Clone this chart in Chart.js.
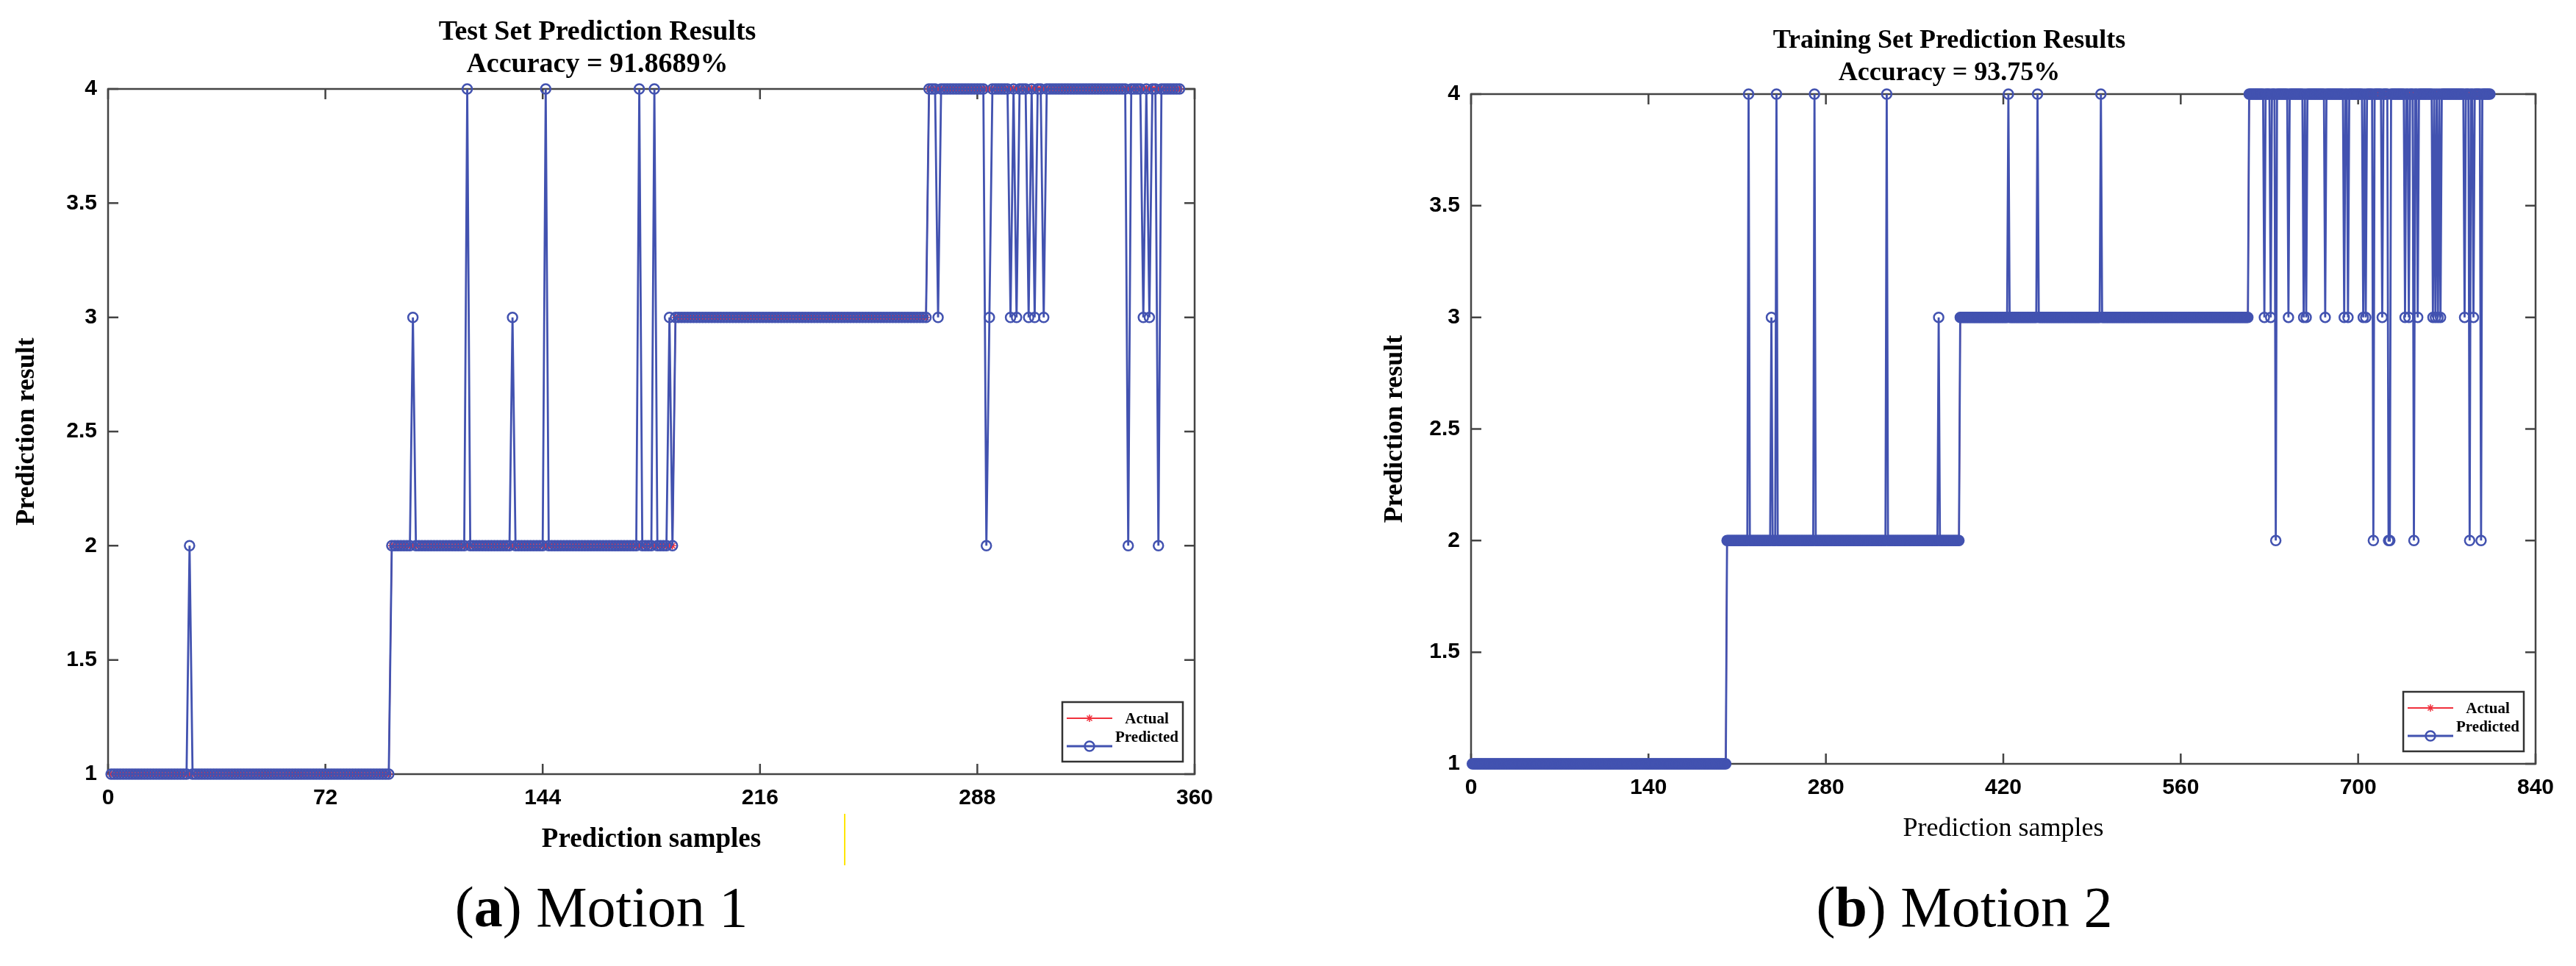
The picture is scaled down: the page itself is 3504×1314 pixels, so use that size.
<!DOCTYPE html>
<html lang="en">
<head>
  <meta charset="UTF-8">
  <title>Prediction Results - Motion 1 / Motion 2</title>
  <script src="https://cdn.jsdelivr.net/npm/chart.js@4.4.0/dist/chart.umd.min.js"></script>
  <style>
    body { margin: 0; background: #fff; }
    #page { position: relative; width: 3504px; height: 1314px; overflow: hidden; background: #fff; }
    .panel { position: absolute; top: 0; width: 1752px; height: 1314px; }
    .caption { position: absolute; width: 800px; text-align: center; font-family: 'Liberation Serif', 'Times New Roman', serif; font-size: 78px; line-height: 1; color: #000; }
    #mark { position: absolute; left: 1148px; top: 1107px; width: 2px; height: 70px; background: #ffe600; }
  </style>
</head>
<body>
  <div id="page">
    <div class="panel" style="left:0"><canvas id="testChart"></canvas></div>
    <div class="panel" style="left:1752px"><canvas id="trainChart"></canvas></div>
    <div id="mark"></div>
    <div class="caption" style="left:418px; top:1195px">(<b>a</b>) Motion 1</div>
    <div class="caption" style="left:2272px; top:1195px">(<b>b</b>) Motion 2</div>
  </div>
  <script>
    // Motion 1 - test set
    const testCount = 355;
    const testClassStart = [1, 94, 188, 272]; // first sample of class 1, 2, 3, 4
    const testErrIdx  = [27, 101, 119, 134, 145, 176, 181, 186, 275, 291, 292, 299, 301, 305, 307, 310, 338, 343, 345, 348];
    const testErrPred = [2,  3,   4,   3,   4,   4,   4,   3,   3,   2,   3,   3,   3,   3,   3,   3,   2,   3,   3,   2];
    const testXTicks = [0, 72, 144, 216, 288, 360];

    // Motion 2 - training set
    const trainCount = 804;
    const trainClassStart = [1, 202, 386, 614];
    const trainErrIdx  = [219, 237, 241, 271, 328, 369, 424, 447, 497,
                          626, 631, 635, 645, 657, 659, 674, 689, 692, 704, 706, 712, 719, 724, 725,
                          737, 740, 744, 747, 759, 761, 763, 765, 784, 788, 791, 797];
    const trainErrPred = [4, 3, 4, 4, 4, 3, 4, 4, 4,
                          3, 3, 2, 3, 3, 3, 3, 3, 3, 3, 3, 2, 3, 2, 2,
                          3, 3, 2, 3, 3, 3, 3, 3, 3, 2, 3, 2];
    const trainXTicks = [0, 140, 280, 420, 560, 700, 840];

    const yTicks = [1, 1.5, 2, 2.5, 3, 3.5, 4];
    const seriesNames = ['Actual', 'Predicted'];

    const RED = '#f0303c';
    const BLUE = '#4252b0';
    const SERIF = "'Liberation Serif', 'Times New Roman', serif";
    const SANS = "'Liberation Sans', Arial, sans-serif";

    function buildSeries(count, starts, errIdx, errPred) {
      const actual = [], predicted = [];
      for (let i = 1; i <= count; i++) {
        let cls = 1;
        starts.forEach((s, k) => { if (i >= s) cls = k + 1; });
        const e = errIdx.indexOf(i);
        actual.push({ x: i, y: cls });
        predicted.push({ x: i, y: e >= 0 ? errPred[e] : cls });
      }
      return { actual, predicted };
    }

    // box around the plot with inward ticks on all four sides
    const axesBox = {
      id: 'axesBox',
      beforeDatasetsDraw(chart) {
        const { ctx, chartArea: a, scales: { x, y } } = chart;
        const len = 14;
        ctx.save();
        ctx.strokeStyle = '#444';
        ctx.lineWidth = 2.5;
        ctx.strokeRect(a.left, a.top, a.right - a.left, a.bottom - a.top);
        ctx.beginPath();
        x.ticks.forEach(t => {
          const px = x.getPixelForValue(t.value);
          ctx.moveTo(px, a.bottom); ctx.lineTo(px, a.bottom - len);
          ctx.moveTo(px, a.top); ctx.lineTo(px, a.top + len);
        });
        y.ticks.forEach(t => {
          const py = y.getPixelForValue(t.value);
          ctx.moveTo(a.left, py); ctx.lineTo(a.left + len, py);
          ctx.moveTo(a.right, py); ctx.lineTo(a.right - len, py);
        });
        ctx.stroke();
        ctx.restore();
      }
    };

    function drawMarker(ctx, ds, cx, cy) {
      ctx.save();
      ctx.strokeStyle = ds.pointBorderColor;
      ctx.lineWidth = ds.pointBorderWidth;
      ctx.beginPath();
      const r = ds.pointRadius;
      if (ds.pointStyle === 'star') {
        const d = r * Math.SQRT1_2;
        ctx.moveTo(cx - r, cy); ctx.lineTo(cx + r, cy);
        ctx.moveTo(cx, cy - r); ctx.lineTo(cx, cy + r);
        ctx.moveTo(cx - d, cy - d); ctx.lineTo(cx + d, cy + d);
        ctx.moveTo(cx - d, cy + d); ctx.lineTo(cx + d, cy - d);
      } else {
        ctx.arc(cx, cy, r, 0, Math.PI * 2);
      }
      ctx.stroke();
      ctx.restore();
    }

    // MATLAB-like legend box in the lower right corner of the plot
    const legendBox = {
      id: 'legendBox',
      afterDatasetsDraw(chart) {
        const { ctx, chartArea: a } = chart;
        const w = 164, h = 81;
        const x0 = a.right - 16 - w, y0 = a.bottom - 17 - h;
        const rows = [{ line: 22, text: 24 }, { line: 60, text: 49 }];
        ctx.save();
        ctx.fillStyle = '#fff';
        ctx.fillRect(x0, y0, w, h);
        ctx.strokeStyle = '#333';
        ctx.lineWidth = 2.5;
        ctx.strokeRect(x0, y0, w, h);
        chart.data.datasets.forEach((ds, i) => {
          const ly = y0 + rows[i].line;
          ctx.strokeStyle = ds.borderColor;
          ctx.lineWidth = ds.borderWidth;
          ctx.beginPath();
          ctx.moveTo(x0 + 6, ly);
          ctx.lineTo(x0 + 68, ly);
          ctx.stroke();
          drawMarker(ctx, ds, x0 + 37, ly);
          ctx.fillStyle = '#000';
          ctx.font = 'bold 21px ' + SERIF;
          ctx.textAlign = 'center';
          ctx.textBaseline = 'middle';
          ctx.fillText(ds.label, x0 + 115, y0 + rows[i].text);
        });
        ctx.restore();
      }
    };

    function makeChart(id, series, o) {
      return new Chart(document.getElementById(id), {
        type: 'line',
        data: {
          datasets: [
            {
              label: seriesNames[0], data: series.actual,
              borderColor: RED, borderWidth: 2, pointStyle: 'star', pointRadius: 5,
              pointBorderColor: RED, pointBorderWidth: 1.5, pointBackgroundColor: RED,
              clip: false, order: 2
            },
            {
              label: seriesNames[1], data: series.predicted,
              borderColor: BLUE, borderWidth: 2.8, pointStyle: 'circle', pointRadius: 6.5,
              pointBorderColor: BLUE, pointBorderWidth: 2.5, pointBackgroundColor: 'rgba(0,0,0,0)',
              clip: false, order: 1
            }
          ]
        },
        options: {
          responsive: true,
          maintainAspectRatio: false,
          animation: false,
          layout: { padding: o.pad },
          plugins: {
            legend: { display: false },
            tooltip: { enabled: false },
            title: {
              display: true, text: o.title, color: '#000',
              font: { family: SERIF, size: o.titleSize, weight: 'bold', lineHeight: o.titleLH },
              padding: o.titlePad
            }
          },
          scales: {
            x: {
              type: 'linear', min: 0, max: o.xTicks[o.xTicks.length - 1],
              afterBuildTicks: s => { s.ticks = o.xTicks.map(v => ({ value: v })); },
              ticks: { padding: 15, color: '#000', font: { family: SANS, size: 30, weight: 'bold' }, maxRotation: 0, callback: v => String(v) },
              grid: { display: false, drawTicks: false },
              border: { display: false },
              title: {
                display: true, text: 'Prediction samples', color: '#000',
                font: { family: SERIF, size: o.xTitleSize, weight: o.xTitleWeight, lineHeight: 1.2 },
                padding: { top: 0, bottom: 0 }
              },
              afterFit: s => { s.height = o.xAxisH; }
            },
            y: {
              min: 1, max: 4,
              afterBuildTicks: s => { s.ticks = yTicks.map(v => ({ value: v })); },
              ticks: { padding: 15, color: '#000', font: { family: SANS, size: 30, weight: 'bold' }, callback: v => String(v) },
              grid: { display: false, drawTicks: false },
              border: { display: false },
              title: {
                display: true, text: 'Prediction result', color: '#000',
                font: { family: SERIF, size: 36, weight: 'bold', lineHeight: 1.2 },
                padding: { top: o.yTitlePad, bottom: 0 }
              },
              afterFit: s => { s.width = 147; }
            }
          }
        },
        plugins: [axesBox, legendBox]
      });
    }

    makeChart('testChart', buildSeries(testCount, testClassStart, testErrIdx, testErrPred), {
      title: ['Test Set Prediction Results', 'Accuracy = 91.8689%'],
      titleSize: 38, titleLH: 1.158, titlePad: { top: 22, bottom: 11 },
      pad: { left: 0, right: 127, top: 0, bottom: 149 },
      xTicks: testXTicks, xAxisH: 112, xTitleSize: 37, xTitleWeight: 'bold',
      yTitlePad: 15
    });

    makeChart('trainChart', buildSeries(trainCount, trainClassStart, trainErrIdx, trainErrPred), {
      title: ['Training Set Prediction Results', 'Accuracy = 93.75%'],
      titleSize: 36, titleLH: 1.222, titlePad: { top: 34, bottom: 6 },
      pad: { left: 102, right: 55, top: 0, bottom: 165 },
      xTicks: trainXTicks, xAxisH: 110, xTitleSize: 36, xTitleWeight: 'normal',
      yTitlePad: 22
    });
  </script>
</body>
</html>
